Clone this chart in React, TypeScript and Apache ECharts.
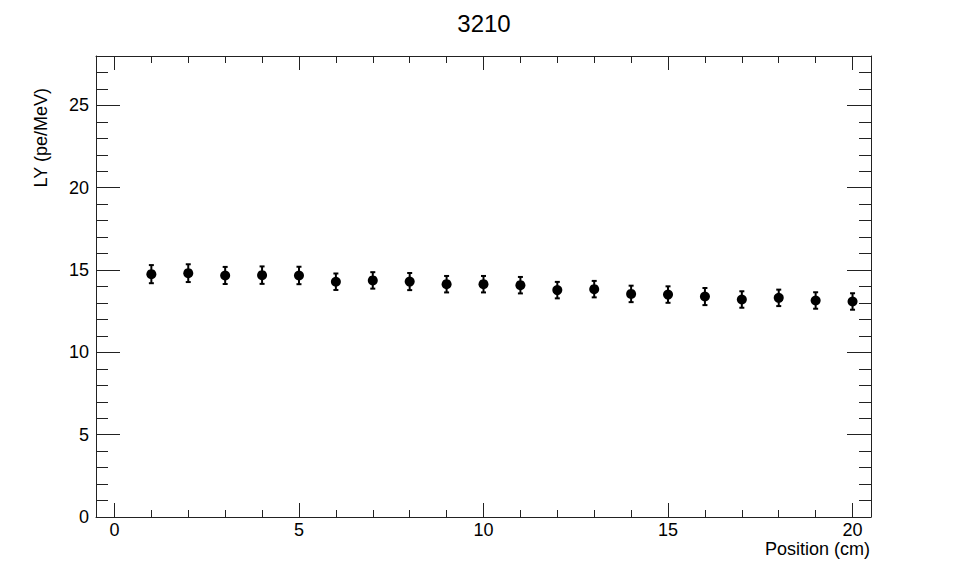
import React, { useEffect, useRef } from "react";
import * as echarts from "echarts";

const titleText = "3210";
const xAxisTitle = "Position (cm)";
const yAxisTitle = "LY (pe/MeV)";

const positions = [1, 2, 3, 4, 5, 6, 7, 8, 9, 10, 11, 12, 13, 14, 15, 16, 17, 18, 19, 20];
const ly = [14.75, 14.81, 14.67, 14.69, 14.67, 14.29, 14.37, 14.3, 14.14, 14.14, 14.08, 13.78, 13.84, 13.55, 13.51, 13.39, 13.21, 13.31, 13.15, 13.09];
const lyErr = [0.55, 0.54, 0.52, 0.53, 0.53, 0.5, 0.5, 0.52, 0.5, 0.5, 0.5, 0.5, 0.5, 0.5, 0.5, 0.52, 0.5, 0.5, 0.5, 0.5];

const xMajor = [0, 5, 10, 15, 20];
const xMinor = [0, 1, 2, 3, 4, 5, 6, 7, 8, 9, 10, 11, 12, 13, 14, 15, 16, 17, 18, 19, 20];
const yMajor = [0, 5, 10, 15, 20, 25];
const yMinor = [0, 1, 2, 3, 4, 5, 6, 7, 8, 9, 10, 11, 12, 13, 14, 15, 16, 17, 18, 19, 20, 21, 22, 23, 24, 25, 26, 27, 28];

const FONT = "Liberation Sans";
const LINE = "#222";

export default function App() {
  const ref = useRef<HTMLDivElement>(null);
  useEffect(() => {
    if (!ref.current) return;
    const chart = echarts.init(ref.current, null, { renderer: "svg" });
    const xRange = { min: -0.5, max: 20.5 };
    const yRange = { min: 0, max: 28 };
    const mkX = (position: string, major: boolean, labels: boolean, showLine: boolean) => ({
      type: "value",
      gridIndex: 0,
      position,
      ...xRange,
      splitLine: { show: false },
      axisLine: { show: showLine, onZero: false, lineStyle: { color: LINE, width: 1 } },
      axisTick: {
        show: true,
        inside: true,
        length: major ? 14 : 7,
        customValues: major ? xMajor : xMinor,
        lineStyle: { color: LINE, width: 1 },
      },
      axisLabel: labels
        ? { show: true, customValues: xMajor, fontFamily: FONT, fontSize: 18, lineHeight: 15, color: "#000", margin: 5 }
        : { show: false },
    });
    const mkY = (position: string, major: boolean, labels: boolean, showLine: boolean) => ({
      type: "value",
      gridIndex: 0,
      position,
      ...yRange,
      splitLine: { show: false },
      axisLine: { show: showLine, onZero: false, lineStyle: { color: LINE, width: 1 } },
      axisTick: {
        show: true,
        inside: true,
        length: major ? 24 : 12,
        customValues: major ? yMajor : yMinor,
        lineStyle: { color: LINE, width: 1 },
      },
      axisLabel: labels
        ? { show: true, customValues: yMajor, fontFamily: FONT, fontSize: 18, color: "#000", margin: 7 }
        : { show: false },
    });

    const errData = positions.map((p, i) => [p, ly[i] - lyErr[i], ly[i] + lyErr[i]]);
    const ptData = positions.map((p, i) => [p, ly[i]]);

    chart.setOption({
      animation: false,
      backgroundColor: "#fff",
      title: {
        text: titleText,
        left: "center",
        top: 6,
        textStyle: { fontFamily: FONT, fontSize: 24, fontWeight: "normal", color: "#000" },
      },
      grid: { left: 96, right: 97, top: 56, bottom: 58, containLabel: false },
      xAxis: [
        mkX("bottom", true, true, true),
        mkX("bottom", false, false, false),
        mkX("top", true, false, true),
        mkX("top", false, false, false),
      ],
      yAxis: [
        mkY("left", true, true, true),
        mkY("left", false, false, false),
        mkY("right", true, false, true),
        mkY("right", false, false, false),
      ],
      graphic: [
        {
          type: "text",
          x: 870,
          y: 549,
          style: { text: xAxisTitle, fontFamily: FONT, fontSize: 18, lineHeight: 15, fill: "#000", align: "right", verticalAlign: "middle" },
        },
        {
          type: "text",
          x: 41,
          y: 88,
          rotation: Math.PI / 2,
          style: { text: yAxisTitle, fontFamily: FONT, fontSize: 18, fill: "#000", align: "right", verticalAlign: "middle" },
        },
      ],
      series: [
        {
          type: "custom",
          xAxisIndex: 0,
          yAxisIndex: 0,
          data: errData,
          renderItem: (params: any, api: any) => {
            const x = api.value(0);
            const lo = api.coord([x, api.value(1)]);
            const hi = api.coord([x, api.value(2)]);
            const cap = 2.5;
            const style = { stroke: "#000", lineWidth: 2, fill: "none" };
            return {
              type: "group",
              children: [
                { type: "line", shape: { x1: lo[0], y1: lo[1], x2: hi[0], y2: hi[1] }, style },
                { type: "line", shape: { x1: lo[0] - cap, y1: lo[1], x2: lo[0] + cap, y2: lo[1] }, style },
                { type: "line", shape: { x1: hi[0] - cap, y1: hi[1], x2: hi[0] + cap, y2: hi[1] }, style },
              ],
            };
          },
          z: 2,
        },
        {
          type: "scatter",
          xAxisIndex: 0,
          yAxisIndex: 0,
          data: ptData,
          symbol: "circle",
          symbolSize: 10,
          itemStyle: { color: "#000", opacity: 1 },
          z: 3,
        },
      ],
    });
    return () => chart.dispose();
  }, []);
  return (
    <div
      ref={ref}
      style={{ position: "fixed", left: 0, top: 0, width: 968, height: 575, background: "#fff" }}
    />
  );
}
